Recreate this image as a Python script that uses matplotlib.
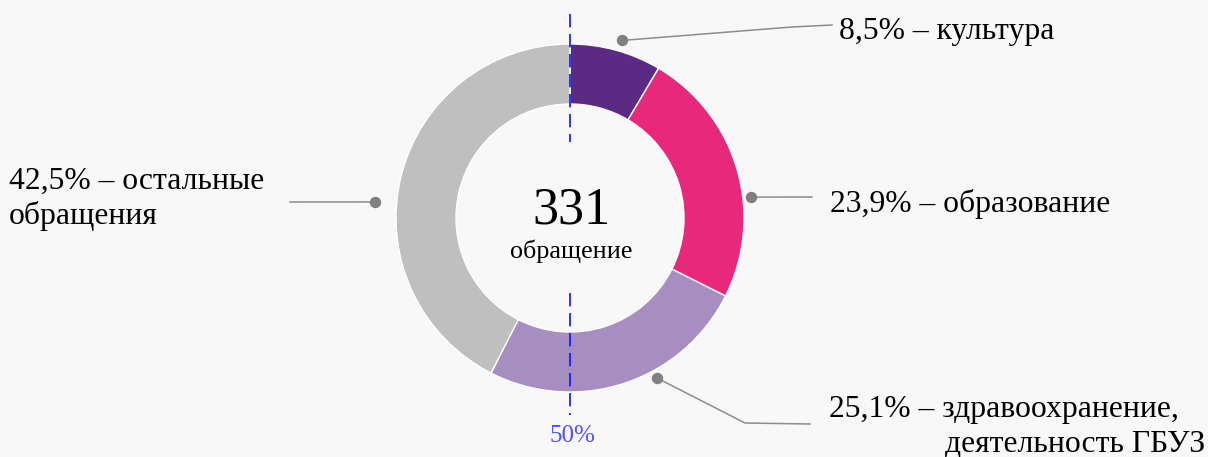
import numpy as np
import matplotlib
matplotlib.use('agg')
import matplotlib.pyplot as plt

plt.rcParams['font.family'] = ['Liberation Serif', 'DejaVu Serif']

# data
categories = ['культура', 'образование', 'здравоохранение', 'остальные обращения']
shares = [8.5, 23.9, 25.1, 42.5]
colors = ['#5b2a82', '#e8297b', '#a68fc0', '#bfbfbf']
total = '331'
total_caption = 'обращение'
label_lines = [
    ['8,5% – культура'],
    ['23,9% – образование'],
    ['25,1% – здравоохранение,', 'деятельность ГБУЗ'],
    ['42,5% – остальные', 'обращения'],
]
marker_text = '50%'

W, H = 1208, 457
cx, cy = 570, 218          # donut centre in pixel coordinates (y down)
R, ring = 174, 60


def Y(y):
    return H - y


fig = plt.figure(figsize=(W / 100, H / 100), dpi=100)
fig.patch.set_facecolor('#f8f8f8')
ax = fig.add_axes([0, 0, 1, 1])
ax.set_facecolor('#f8f8f8')

ax.pie(shares, colors=colors, startangle=90, counterclock=False,
       radius=R, center=(cx, Y(cy)),
       wedgeprops=dict(width=ring, edgecolor='white', linewidth=1))

# centre text
ax.text(cx + 1, Y(223), total, fontsize=37.5, ha='center', va='baseline')
ax.text(cx + 1, Y(258), total_caption, fontsize=18.8, ha='center', va='baseline')

# 50% marker
ax.plot([cx, cx], [Y(cy - 204), Y(cy - 76)], color='#1010ff', lw=1.2, ls=(0, (8, 4)))
ax.plot([cx, cx], [Y(cy + 75), Y(cy + 197)], color='#1010ff', lw=1.2, ls=(0, (8, 4)))
ax.text(cx + 2, Y(442), marker_text, fontsize=18, color='#5050ff', ha='center', va='baseline')

# leader lines: dot (angle, radius) near the ring, then kink/end points
dot_angles = [73.7, 6.6, -61.5, 175.3]
dot_radii = [185, 182, 182, 196]
leader_rest = [
    [(792, 27), (832, 25)],
    [(812, 197)],
    [(745, 423), (810, 424)],
    [(290, 202)],
]
text_pos = [(839, 39), (830, 212), (829, 417), (9, 189)]

for ang, dr, rest, (tx, ty), lines in zip(dot_angles, dot_radii, leader_rest, text_pos, label_lines):
    a = np.radians(ang)
    dx = cx + dr * np.cos(a)
    dy = cy - dr * np.sin(a)
    xs = [dx] + [p[0] for p in rest]
    ys = [Y(dy)] + [Y(p[1]) for p in rest]
    ax.plot(xs, ys, color='#8c8c8c', lw=1.1)
    ax.plot(dx, Y(dy), 'o', color='#808080', ms=7.2)
    for i, s in enumerate(lines):
        if i == 1 and tx > cx:
            ax.text(1205, Y(ty + 35 * i), s, fontsize=22.8, ha='right', va='baseline')
        else:
            ax.text(tx, Y(ty + 35 * i), s, fontsize=22.8, ha='left', va='baseline')

ax.set_xlim(0, W)
ax.set_ylim(0, H)
ax.set_aspect('equal')
ax.axis('off')

fig.savefig('out.png', dpi=100, facecolor=fig.get_facecolor())
